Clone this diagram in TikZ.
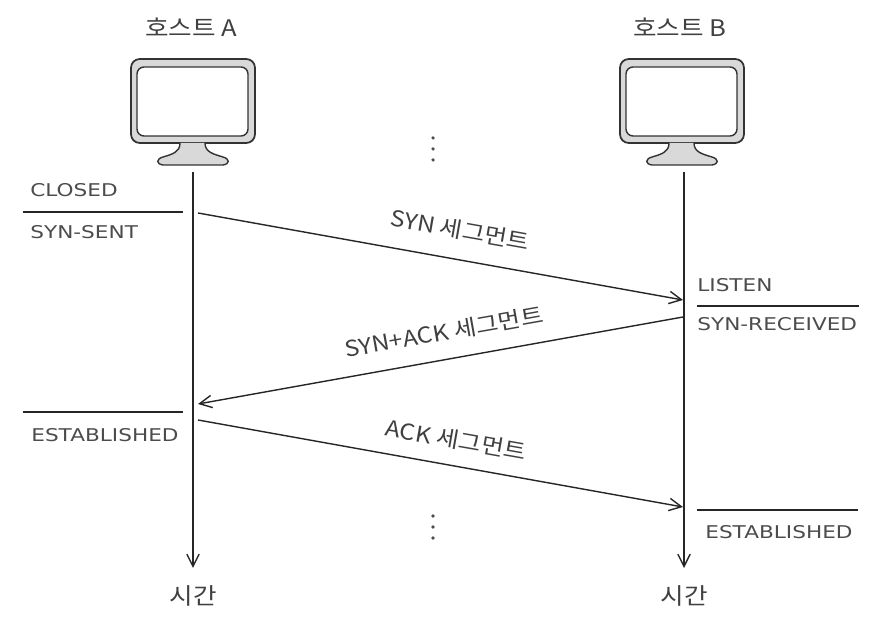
\documentclass[tikz,border=0pt]{standalone}
\usepackage{fontspec}
\setmainfont{DejaVu Sans}
\newfontfamily\etatfont[FakeStretch=1.23]{DejaVu Sans}
\newfontfamily\krfont[FakeStretch=1.12]{Noto Sans CJK KR}
\usetikzlibrary{arrows.meta}

\begin{document}
\begin{tikzpicture}[x=0.02cm, y=-0.02cm]
  % Styles
  \tikzset{
    ligne/.style={thick, color=black!85},
    fleche/.style={ligne, -{Straight Barb[length=7pt, width=7pt]}},
    etat/.style={font=\etatfont\fontsize{10}{12}\selectfont, color=black!70, inner sep=0pt, anchor=west},
    titre/.style={font=\krfont\fontsize{13}{15}\selectfont, color=black!75, inner sep=0pt},
    segment/.style={font=\krfont\fontsize{12.5}{15}\selectfont, color=black!75, inner sep=0pt},
    point/.style={fill=black!70, circle, minimum size=2pt, inner sep=0pt},
  }
  \useasboundingbox (0,0) rectangle (877,624);

  % Hotes
  \foreach \nom/\x in {A/193, B/682}{
    \begin{scope}[shift={(\x,0)}]
      \path[draw=black!80, line width=1pt, rounded corners=5pt, fill=black!15]
        (-62,59) rectangle (62,143);
      \path[draw=black!80, line width=0.8pt, rounded corners=4pt, fill=white]
        (-56,67) rectangle (55,136);
      \draw[black!80, line width=0.8pt, fill=black!15]
        (-13,143) .. controls (-13,152) and (-20,154) .. (-30,157)
        .. controls (-37,159) and (-37,164) .. (-30,165) -- (30,165)
        .. controls (37,164) and (37,159) .. (30,157)
        .. controls (20,154) and (12,152) .. (12,143);
    \end{scope}
    \node[titre] (titre\nom) at (\x-2,27) {호스트 \nom};
  }

  % Axes
  \coordinate (hautA) at (193,172);
  \coordinate (basA) at (193,568);
  \coordinate (hautB) at (684,172);
  \coordinate (basB) at (684,568);
  \draw[fleche] (hautA) -- (basA);
  \draw[fleche] (hautB) -- (basB);
  \node[titre] (tempsA) at (193,596) {시간};
  \node[titre] (tempsB) at (684,596) {시간};

  % Segments
  \coordinate (synD) at (198,213);
  \coordinate (synF) at (683,300);
  \coordinate (ackD) at (683,317);
  \coordinate (ackF) at (198,404);
  \coordinate (finD) at (198,420);
  \coordinate (finF) at (683,507);
  \draw[fleche] (synD) -- (synF);
  \draw[fleche] (ackD) -- (ackF);
  \draw[fleche] (finD) -- (finF);
  \node[segment, rotate=-10] (synL) at (460,230) {SYN 세그먼트};
  \node[segment, rotate=10] (ackL) at (444,332) {SYN+ACK 세그먼트};
  \node[segment, rotate=-10] (finL) at (456,440) {ACK 세그먼트};

  % Etats
  \coordinate (a1) at (23,212);
  \coordinate (a2) at (183,212);
  \coordinate (a3) at (23,412);
  \coordinate (a4) at (183,412);
  \coordinate (b1) at (697,306);
  \coordinate (b2) at (859,306);
  \coordinate (b3) at (697,510);
  \coordinate (b4) at (858,510);
  \draw[ligne] (a1) -- (a2);
  \draw[ligne] (a3) -- (a4);
  \draw[ligne] (b1) -- (b2);
  \draw[ligne] (b3) -- (b4);
  \node[etat] (closed) at (30,190) {CLOSED};
  \node[etat] (sent) at (30,232) {SYN-SENT};
  \node[etat] (estA) at (31,435) {ESTABLISHED};
  \node[etat] (listen) at (697,285) {LISTEN};
  \node[etat] (recv) at (697,324) {SYN-RECEIVED};
  \node[etat] (estB) at (705,532) {ESTABLISHED};

  % Points
  \foreach \y in {138,149,160,516,527,538}{
    \node[point] (pt\y) at (433,\y) {};
  }

\end{tikzpicture}
\end{document}
